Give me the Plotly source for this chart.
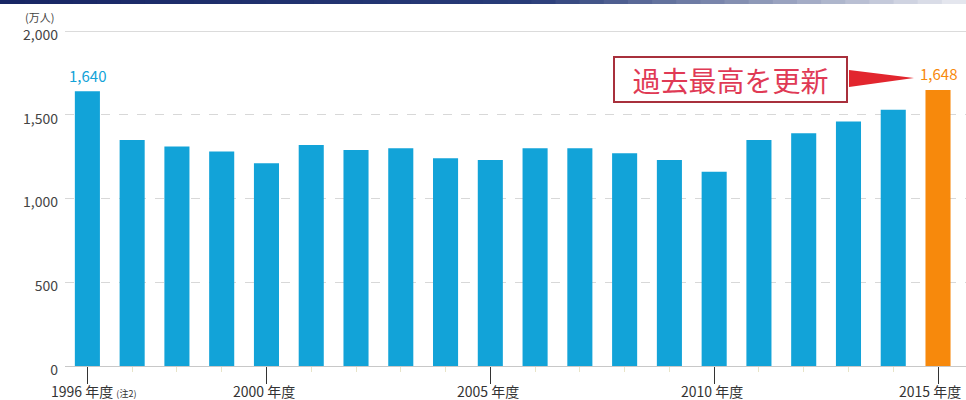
import plotly.graph_objects as go

years = list(range(1996, 2016))
visitors = [1640, 1350, 1310, 1280, 1210, 1320, 1290, 1300, 1240, 1230,
            1300, 1300, 1270, 1230, 1160, 1350, 1390, 1460, 1530, 1648]
y_ticks = [0, 500, 1000, 1500, 2000]
y_ticktext = ["0", "500", "1,000", "1,500", "2,000"]
x_ticks = [1996, 2000, 2005, 2010, 2015]
x_ticktext = ["1996 年度", "2000 年度", "2005 年度", "2010 年度", "2015 年度"]
first_note = "(注2)"
unit_label = "(万人)"
callout_text = "過去最高を更新"

BLUE = "#12a3d8"
ORANGE = "#f7890c"
colors = [BLUE] * (len(years) - 1) + [ORANGE]

FONT = "Noto Sans CJK JP"

fig = go.Figure()
fig.add_trace(go.Bar(x=years, y=visitors, marker=dict(color=colors, line=dict(width=0)),
                     hoverinfo="x+y"))

L, R, T, B = 65, 0, 31, 34
W, H = 966, 400

fig.update_layout(
    width=W, height=H,
    margin=dict(l=L, r=R, t=T, b=B, autoexpand=False),
    paper_bgcolor="white", plot_bgcolor="white",
    bargap=0.44,
    showlegend=False,
    font=dict(family=FONT, size=11, color="#333"),
    xaxis=dict(range=[1995.5, 2015.625], tickvals=x_ticks, showticklabels=False,
               ticks="outside", ticklen=17, tickwidth=1, tickcolor="#333",
               showline=True, linecolor="#c8c8c8", linewidth=1,
               showgrid=False, zeroline=False, automargin=False,
               minor=dict(tickvals=years, ticks="outside", ticklen=5, tickcolor="#e8e4c8")),
    yaxis=dict(range=[0, 2000], tickvals=y_ticks, ticktext=y_ticktext,
               showgrid=True, gridcolor="#d8d8d8", griddash="dash", gridwidth=1,
               zeroline=False, showline=False, ticks="", automargin=False,
               ticklabelshift=4, ticklabelstandoff=6,
               tickfont=dict(size=14, color="#444", family=FONT)),
)

# solid top gridline
fig.add_shape(type="line", xref="paper", yref="y", x0=0, x1=1, y0=y_ticks[-1], y1=y_ticks[-1],
              line=dict(color="#b8b8b8", width=1))

pw, ph = W - L - R, H - T - B
def px(xp):
    return (xp - L) / pw
def py(yp):
    return (H - B - yp) / ph

# x tick labels as annotations (so the last one is not dropped at the edge)
LAB_Y = 391
for i, (xv, lab) in enumerate(zip(x_ticks, x_ticktext)):
    if i == 0:
        fig.add_annotation(text=f"{lab} <span style='font-size:9px'>{first_note}</span>",
                           xref="paper", yref="paper", x=px(49), y=py(LAB_Y),
                           xanchor="left", yanchor="middle", showarrow=False,
                           font=dict(size=14, color="#333", family=FONT))
    elif i == len(x_ticks) - 1:
        fig.add_annotation(text=lab, xref="paper", yref="paper", x=px(963), y=py(LAB_Y),
                           xanchor="right", yanchor="middle", showarrow=False,
                           font=dict(size=14, color="#333", family=FONT))
    else:
        fig.add_annotation(text=lab, x=xv, xref="x", yref="paper", y=py(LAB_Y),
                           xanchor="center", yanchor="middle", showarrow=False, xshift=-2,
                           font=dict(size=14, color="#333", family=FONT))

# header gradient band
def lerp(a, b, t):
    return tuple(int(round(a[i] + (b[i] - a[i]) * t)) for i in range(3))
c0, c1, c2 = (24, 38, 100), (40, 60, 120), (228, 230, 238)
n = 40
for i in range(n):
    t = i / (n - 1)
    c = lerp(c0, c1, t / 0.55) if t < 0.55 else lerp(c1, c2, (t - 0.55) / 0.45)
    fig.add_shape(type="rect", xref="paper", yref="paper",
                  x0=px(i * W / n), x1=px((i + 1) * W / n + 1),
                  y0=py(4), y1=py(0),
                  fillcolor="rgb(%d,%d,%d)" % c, line=dict(width=0), layer="above")

# unit label
fig.add_annotation(text=unit_label, xref="paper", yref="paper", x=px(56), y=py(17),
                   xanchor="right", yanchor="middle", showarrow=False,
                   font=dict(size=11, color="#444", family=FONT))

# value labels for first and last
fig.add_annotation(text=f"{visitors[0]:,}", x=years[0], y=visitors[0], yanchor="bottom",
                   yshift=3, showarrow=False, font=dict(size=15, color=BLUE, family=FONT))
fig.add_annotation(text=f"{visitors[-1]:,}", x=years[-1], y=visitors[-1], yanchor="bottom",
                   yshift=4, showarrow=False, font=dict(size=15, color=ORANGE, family=FONT))

# callout box
fig.add_annotation(text=callout_text, xref="paper", yref="paper",
                   x=px(730), y=py(79), xanchor="center", yanchor="middle",
                   showarrow=False, width=225, height=37, borderpad=3,
                   bordercolor="#a8303c", borderwidth=2, bgcolor="white",
                   font=dict(size=28, color="#e03a55", family=FONT))

# wedge arrow pointing to the record bar
path = f"M {px(849)},{py(70)} L {px(914)},{py(78)} L {px(849)},{py(87)} Z"
fig.add_shape(type="path", xref="paper", yref="paper", path=path,
              fillcolor="#e2262e", line=dict(width=0))

fig.write_html("out.html", config={"displayModeBar": False},
               post_script="document.body.style.margin='0';document.body.style.overflow='hidden';")
